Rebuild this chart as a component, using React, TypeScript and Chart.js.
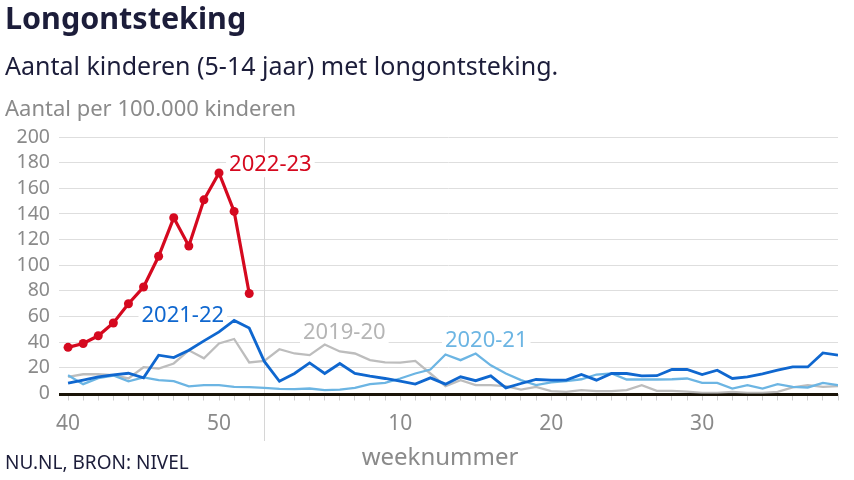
import React, { useEffect, useRef } from "react";
import { Chart, registerables } from "chart.js";

Chart.register(...registerables);

const weeks = [40, 41, 42, 43, 44, 45, 46, 47, 48, 49, 50, 51, 52, 1, 2, 3, 4, 5, 6, 7, 8, 9, 10, 11, 12, 13, 14, 15, 16, 17, 18, 19, 20, 21, 22, 23, 24, 25, 26, 27, 28, 29, 30, 31, 32, 33, 34, 35, 36, 37, 38, 39];

const s2022_23 = [36, 39, 45, 55, 70, 83, 107, 137, 115, 151, 172, 142, 78];

const s2021_22 = [8, 10.5, 13, 14.5, 15.8, 12.2, 29.9, 28, 33.7, 41, 48, 57, 51, 25, 9.5, 15.6, 23.9, 15.6, 23.4, 15.6, 13.5, 11.7, 9.6, 7.3, 12.2, 7.3, 13, 10, 13.7, 4.4, 7.8, 10.9, 10.4, 10.4, 14.8, 10.4, 15.6, 15.6, 13.7, 13.9, 18.7, 18.7, 14.8, 18.2, 11.7, 13, 15.3, 18.2, 20.7, 20.7, 31.6, 29.9];

const s2020_21 = [14.3, 7.3, 12, 14, 9.5, 12.5, 10.5, 9.6, 5.5, 6.5, 6.5, 5.2, 5, 4.4, 3.6, 3.4, 3.9, 2.6, 3.1, 4.4, 7.3, 8.3, 11.7, 15.6, 18.7, 30.4, 26, 31.2, 22, 15.6, 10.4, 6.5, 8.6, 9.6, 11.1, 14.8, 15.6, 10.9, 10.9, 10.9, 11.1, 11.7, 8.3, 8.3, 3.9, 6.5, 3.9, 7.3, 5.2, 4.7, 8.3, 6.5];

const s2019_20 = [13, 15, 15, 14.3, 11.7, 20.5, 19.5, 23.4, 33.7, 27.5, 39, 42.5, 24.2, 25.4, 34.5, 31.2, 29.9, 38.2, 32.8, 31.2, 26, 24.2, 24, 25.4, 15.6, 5.7, 10.4, 6.5, 6.5, 5.7, 3.1, 5.2, 1.8, 1.3, 2.6, 1.8, 1.8, 2.6, 6.5, 2, 2, 1.5, 0.5, 0.5, 1.3, 0.5, 0.5, 1.3, 4.7, 6.5, 5.2, 5.7];

const yTicks = [0, 20, 40, 60, 80, 100, 120, 140, 160, 180, 200];
const xLabelWeeks = [40, 50, 10, 20, 30];

const seriesNames = ["2022-23", "2021-22", "2020-21", "2019-20"];
const RED = "#d5091f";
const DARK = "#0f67cf";
const LIGHT = "#6cb5e3";
const GREY = "#bdbdbd";

const FONT = '"Noto Sans", "Open Sans", sans-serif';

const toPoints = (arr: number[]) => arr.map((v, i) => ({ x: i, y: v }));

const decorPlugin = {
  id: "decor",
  beforeDatasetsDraw(chart: any) {
    const { ctx, chartArea, scales } = chart;
    const x = scales.x;
    const y = scales.y;
    ctx.save();
    // year boundary line at week 1
    const xb = Math.round(x.getPixelForValue(weeks.indexOf(1))) + 0.5;
    ctx.strokeStyle = "#d6d6d6";
    ctx.lineWidth = 1;
    ctx.beginPath();
    ctx.moveTo(xb, chartArea.top);
    ctx.lineTo(xb, 441);
    ctx.stroke();

    // series labels with white backgrounds
    const labels = [
      { t: seriesNames[0], c: RED, wi: 13.4, v: 178 },
      { t: seriesNames[1], c: DARK, wi: 7.6, v: 61 },
      { t: seriesNames[3], c: "#b5b5b5", wi: 18.3, v: 47 },
      { t: seriesNames[2], c: LIGHT, wi: 27.7, v: 41 },
    ];
    ctx.font = `22px ${FONT}`;
    ctx.textAlign = "center";
    ctx.textBaseline = "middle";
    for (const l of labels) {
      const px = x.getPixelForValue(l.wi);
      const py = y.getPixelForValue(l.v);
      const w = ctx.measureText(l.t).width;
      ctx.fillStyle = "#ffffff";
      ctx.fillRect(px - w / 2 - 3, py - 12, w + 6, 24);
      ctx.fillStyle = l.c;
      ctx.fillText(l.t, px, py);
    }

    // zero baseline
    const y0 = y.getPixelForValue(0);
    ctx.strokeStyle = "#1a1408";
    ctx.lineWidth = 3;
    ctx.beginPath();
    ctx.moveTo(chartArea.left, y0 + 1);
    ctx.lineTo(chartArea.right, y0 + 1);
    ctx.stroke();
    ctx.restore();
  },
  afterDraw(chart: any) {
    const { ctx } = chart;
    ctx.save();
    ctx.textAlign = "left";
    ctx.textBaseline = "alphabetic";
    ctx.fillStyle = "#1c1d3a";
    ctx.font = `bold 30.5px ${FONT}`;
    ctx.fillText("Longontsteking", 5, 29);
    ctx.fillStyle = "#1c1d3a";
    ctx.font = `25px ${FONT}`;
    ctx.fillText("Aantal kinderen (5-14 jaar) met longontsteking.", 5, 75);
    ctx.fillStyle = "#8a8a8a";
    ctx.font = `22px ${FONT}`;
    ctx.fillText("Aantal per 100.000 kinderen", 5, 116);
    ctx.textAlign = "center";
    ctx.font = `24px ${FONT}`;
    ctx.fillText("weeknummer", 440, 465);
    ctx.textAlign = "left";
    ctx.fillStyle = "#1c1d3a";
    ctx.font = `19px ${FONT}`;
    ctx.fillText("NU.NL, BRON: NIVEL", 5, 469);
    ctx.restore();
  },
};

export default function App() {
  const ref = useRef<HTMLCanvasElement | null>(null);
  useEffect(() => {
    document.body.style.margin = "0";
    const canvas = ref.current;
    if (!canvas) return;
    const chart = new Chart(canvas, {
      type: "line",
      data: {
        datasets: [
          {
            label: seriesNames[0],
            data: toPoints(s2022_23),
            borderColor: RED,
            backgroundColor: RED,
            borderWidth: 3.2,
            pointRadius: 4.5,
            pointBackgroundColor: RED,
            pointBorderWidth: 0,
            tension: 0,
            order: 0,
          },
          {
            label: seriesNames[1],
            data: toPoints(s2021_22),
            borderColor: DARK,
            borderWidth: 2.8,
            pointRadius: 0,
            tension: 0,
            order: 1,
          },
          {
            label: seriesNames[2],
            data: toPoints(s2020_21),
            borderColor: LIGHT,
            borderWidth: 2.3,
            pointRadius: 0,
            tension: 0,
            order: 2,
          },
          {
            label: seriesNames[3],
            data: toPoints(s2019_20),
            borderColor: GREY,
            borderWidth: 2.3,
            pointRadius: 0,
            tension: 0,
            order: 3,
          },
        ],
      },
      options: {
        responsive: false,
        animation: false,
        layout: { padding: { top: 137, right: 16, left: 0, bottom: 0 } },
        plugins: {
          legend: { display: false },
          tooltip: { enabled: false },
          title: { display: false },
        },
        scales: {
          x: {
            type: "linear",
            min: -0.6,
            max: weeks.length - 1,
            afterBuildTicks: (scale: any) => {
              scale.ticks = weeks.map((_, i) => ({ value: i }));
            },
            afterFit: (scale: any) => {
              scale.height = 86.5;
            },
            ticks: {
              autoSkip: false,
              maxRotation: 0,
              padding: 11,
              color: "#8a8a8a",
              font: { family: FONT, size: 21 },
              callback: (value: any) => {
                const w = weeks[Math.round(value)];
                return xLabelWeeks.includes(w) ? String(w) : "";
              },
            },
            grid: {
              drawOnChartArea: false,
              drawTicks: true,
              tickLength: 7,
              tickColor: "#cfcfcf",
            },
            border: { display: false },
          },
          y: {
            min: yTicks[0],
            max: yTicks[yTicks.length - 1],
            afterBuildTicks: (scale: any) => {
              scale.ticks = yTicks.map((v) => ({ value: v }));
            },
            afterFit: (scale: any) => {
              scale.width = 59;
            },
            ticks: {
              autoSkip: false,
              padding: 9,
              color: "#8a8a8a",
              font: { family: FONT, size: 19.5 },
            },
            grid: {
              color: "#dedede",
              lineWidth: 1,
              drawTicks: false,
            },
            border: { display: false },
          },
        },
      },
      plugins: [decorPlugin],
    });
    return () => chart.destroy();
  }, []);
  return (
    <div style={{ width: 854, height: 480, background: "#fff" }}>
      <canvas ref={ref} width={854} height={480} style={{ display: "block" }} />
    </div>
  );
}
